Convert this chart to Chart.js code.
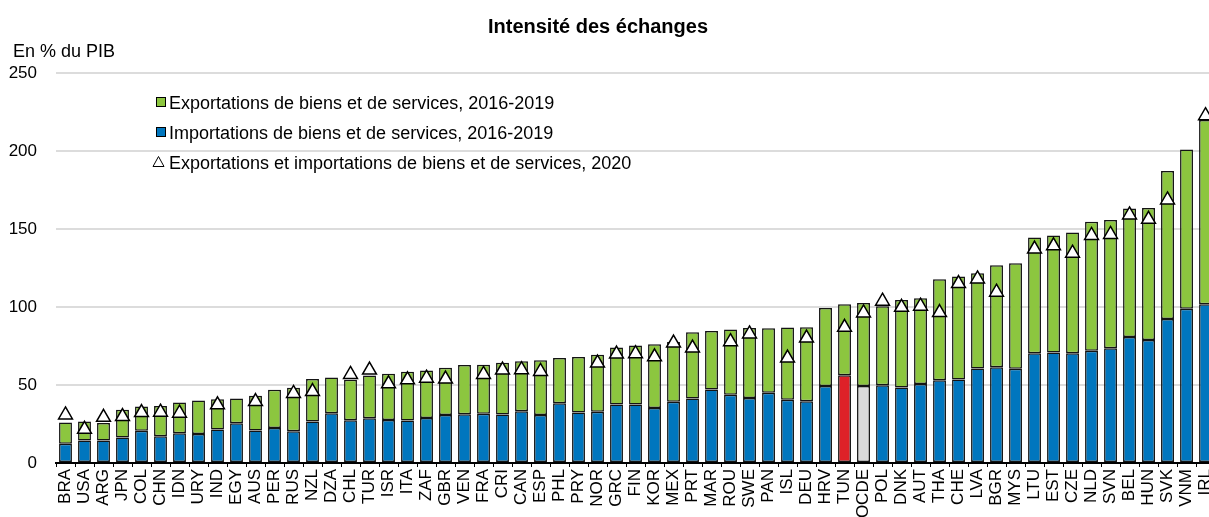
<!DOCTYPE html>
<html>
<head>
<meta charset="utf-8">
<title>Intensité des échanges</title>
<script src="https://cdn.jsdelivr.net/npm/chart.js@4.4.1/dist/chart.umd.min.js"></script>
<style>
  html, body { margin: 0; padding: 0; background: #fff; overflow: hidden; }
  #wrap { position: relative; width: 1228px; height: 517px; }
</style>
</head>
<body>
<div id="wrap"><canvas id="trade-chart" width="1228" height="517"></canvas></div>
<script>
// En % du PIB
const countries = ['BRA', 'USA', 'ARG', 'JPN', 'COL', 'CHN', 'IDN', 'URY', 'IND', 'EGY',
  'AUS', 'PER', 'RUS', 'NZL', 'DZA', 'CHL', 'TUR', 'ISR', 'ITA', 'ZAF',
  'GBR', 'VEN', 'FRA', 'CRI', 'CAN', 'ESP', 'PHL', 'PRY', 'NOR', 'GRC',
  'FIN', 'KOR', 'MEX', 'PRT', 'MAR', 'ROU', 'SWE', 'PAN', 'ISL', 'DEU',
  'HRV', 'TUN', 'OCDE', 'POL', 'DNK', 'AUT', 'THA', 'CHE', 'LVA', 'BGR',
  'MYS', 'LTU', 'EST', 'CZE', 'NLD', 'SVN', 'BEL', 'HUN', 'SVK', 'VNM', 'IRL'];

const importValues = [12.4, 14.4, 14.4, 16.3, 20.6, 17.1, 19.1, 18.6, 21.4, 25.5,
  20.8, 22.5, 20.4, 26.6, 31.9, 27.4, 28.7, 27.6, 27.2, 28.9,
  30.8, 31.3, 31.5, 31.1, 33.2, 30.8, 38.3, 32.3, 32.8, 37.5,
  37.5, 35.3, 39.2, 41.3, 47.1, 43.7, 41.6, 45.0, 40.5, 39.6,
  49.3, 56.3, 49.3, 49.9, 48.4, 50.6, 53.1, 53.6, 60.6, 61.3,
  60.4, 70.3, 70.9, 70.3, 72.0, 73.5, 80.8, 78.8, 92.3, 98.8, 101.8];

const exportValues = [13.5, 12.2, 11.3, 17.8, 15.6, 19.5, 19.7, 21.5, 19.5, 15.8,
  22.3, 24.4, 27.8, 27.2, 22.9, 25.9, 27.4, 29.6, 31.3, 30.4,
  30.3, 31.5, 31.5, 33.2, 32.1, 35.0, 29.0, 35.6, 36.6, 36.6,
  37.9, 40.8, 38.4, 42.5, 37.5, 41.8, 44.9, 41.3, 46.3, 47.4,
  50.1, 45.5, 53.3, 50.6, 56.1, 55.0, 64.7, 65.9, 61.1, 65.5,
  67.7, 74.3, 75.0, 77.5, 82.7, 82.2, 82.4, 84.7, 94.9, 102.1, 118.0];

const trade2020 = [30.8, 21.6, 29.3, 29.8, 32.3, 32.6, 31.9, null, 37.3, null,
  39.4, null, 44.6, 45.8, null, 56.8, 59.6, 50.8, 53.3, 54.4,
  53.8, null, 56.8, 59.6, 59.8, 58.7, null, null, 64.1, 69.8,
  70.1, 68.1, 76.9, 73.7, null, 77.8, 82.7, null, 67.3, 80.1,
  null, 87.0, 96.2, 103.7, 99.8, 100.5, 96.4, 115.0, 118.0, 109.5,
  null, 137.1, 139.2, 134.5, 145.9, 146.5, 159.0, 156.2, 168.6, null, 222.6];

const yTicks = [0, 50, 100, 150, 200, 250];

const BLUE = '#0076be';
const GREEN = '#8cc63f';
const RED = '#de2128';
const GREY = '#dadada';
const FONT = '"Liberation Sans", Arial, sans-serif';

const importColors = countries.map(c => c === 'TUN' ? RED : (c === 'OCDE' ? GREY : BLUE));

// title, unit and the legend box drawn inside the plot
const decorations = {
  id: 'decorations',
  afterDraw(chart) {
    const ctx = chart.ctx;
    ctx.save();
    ctx.fillStyle = '#000';
    ctx.textBaseline = 'alphabetic';
    ctx.font = 'bold 20px ' + FONT;
    ctx.textAlign = 'center';
    ctx.fillText('Intensité des échanges', 598, 33);
    ctx.font = '18px ' + FONT;
    ctx.textAlign = 'left';
    ctx.fillText('En % du PIB', 13, 57);

    const ds = chart.data.datasets;
    const rows = [
      { label: ds[1].label, fill: GREEN, y: 102 },
      { label: ds[0].label, fill: BLUE, y: 132 },
      { label: ds[2].label, fill: null, y: 162 }
    ];
    ctx.lineWidth = 1;
    ctx.strokeStyle = '#000';
    rows.forEach(r => {
      if (r.fill) {
        ctx.fillStyle = r.fill;
        ctx.fillRect(156.5, r.y - 4.5, 9, 9);
        ctx.strokeRect(156.5, r.y - 4.5, 9, 9);
      } else {
        ctx.fillStyle = '#fff';
        ctx.beginPath();
        ctx.moveTo(158.5, r.y - 5.5);
        ctx.lineTo(164, r.y + 4.5);
        ctx.lineTo(153, r.y + 4.5);
        ctx.closePath();
        ctx.fill();
        ctx.stroke();
      }
      ctx.fillStyle = '#000';
      ctx.fillText(r.label, 169, r.y + 6.5);
    });
    ctx.restore();
  }
};

const ctx = document.getElementById('trade-chart').getContext('2d');
const tradeChart = new Chart(ctx, {
  type: 'bar',
  data: {
    labels: countries,
    datasets: [
      {
        label: 'Importations de biens et de services, 2016-2019',
        data: importValues,
        backgroundColor: importColors,
        borderColor: '#141414',
        borderWidth: 1.5,
        borderSkipped: false,
        stack: 'trade',
        order: 1,
        barPercentage: 0.68,
        categoryPercentage: 1
      },
      {
        label: 'Exportations de biens et de services, 2016-2019',
        data: exportValues,
        backgroundColor: GREEN,
        borderColor: '#141414',
        borderWidth: 1.5,
        borderSkipped: false,
        stack: 'trade',
        order: 1,
        barPercentage: 0.68,
        categoryPercentage: 1
      },
      {
        type: 'line',
        label: 'Exportations et importations de biens et de services, 2020',
        data: trade2020,
        showLine: false,
        pointStyle: 'triangle',
        pointRadius: 8,
        pointBackgroundColor: '#fff',
        pointBorderColor: '#000',
        pointBorderWidth: 1.5,
        stack: 'marks',
        order: 0
      }
    ]
  },
  options: {
    responsive: false,
    animation: false,
    layout: {
      padding: { top: 73, left: 0, right: 0, bottom: 0 }
    },
    plugins: {
      legend: { display: false },
      title: { display: false },
      tooltip: { enabled: false }
    },
    scales: {
      x: {
        stacked: true,
        offset: true,
        grid: {
          display: true,
          drawOnChartArea: false,
          drawTicks: true,
          tickLength: 4,
          color: '#000',
          lineWidth: 1
        },
        border: { display: true, color: '#000', width: 2 },
        ticks: {
          autoSkip: false,
          maxRotation: 90,
          minRotation: 90,
          padding: 2,
          color: '#000',
          font: { family: FONT, size: 17 }
        },
        afterFit: (scale) => { scale.height = 54; }
      },
      y: {
        stacked: true,
        min: yTicks[0],
        max: yTicks[yTicks.length - 1],
        afterBuildTicks: (scale) => { scale.ticks = yTicks.map(v => ({ value: v })); },
        grid: {
          drawTicks: false,
          color: (c) => c.tick && c.tick.value === 0 ? 'rgba(0,0,0,0)' : '#dcdcdc',
          lineWidth: 2
        },
        border: { display: false },
        ticks: {
          padding: 19,
          color: '#000',
          font: { family: FONT, size: 17 }
        },
        afterFit: (scale) => { scale.width = 56; }
      }
    }
  },
  plugins: [decorations]
});
</script>
</body>
</html>
